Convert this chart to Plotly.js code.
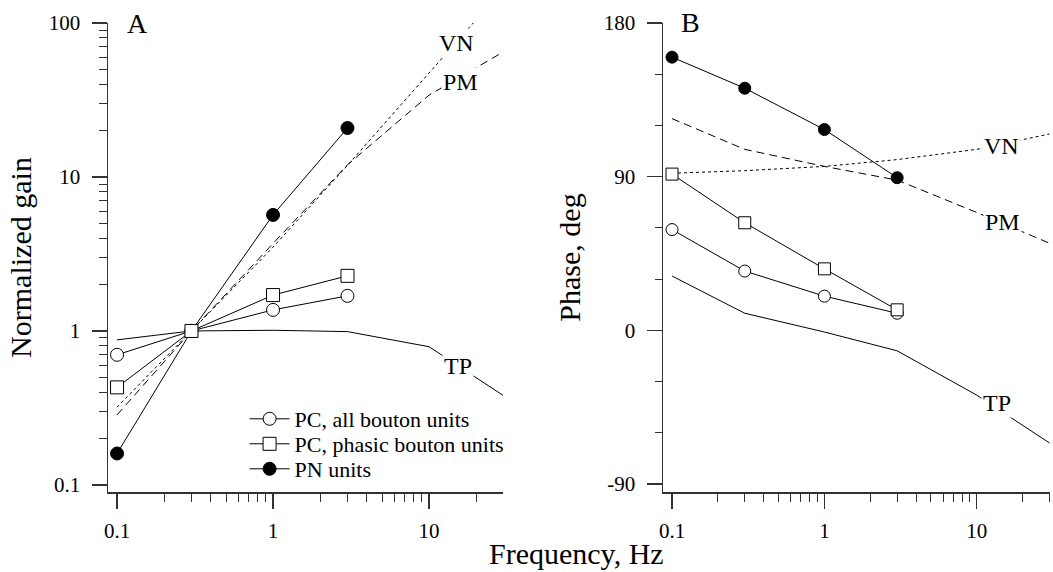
<!DOCTYPE html>
<html>
<head>
<meta charset="utf-8">
<script src="https://cdn.plot.ly/plotly-3.0.1.min.js"></script>
<style>html,body{margin:0;padding:0;background:#fff;}#chart{width:1053px;height:572px;}</style>
</head>
<body>
<div id="chart"></div>
<script>
// ---- data ----
const freqs = [0.1, 0.3, 1, 3];
const gainPCall = [0.70, 1, 1.37, 1.69];
const gainPCphasic = [0.43, 1, 1.71, 2.28];
const gainPN = [0.16, 1, 5.67, 20.8];

const modelFreqs = [0.1, 0.3, 1, 3, 10, 30];
const vnFreqsA = [0.1, 0.3, 1, 3, 10, 19.2];
const gainVN = [0.32, 1, 3.5, 11.9, 47, 100];
const gainPM = [0.285, 1, 3.7, 12, 34, 65];
const gainTP = [0.875, 1, 1.01, 0.99, 0.79, 0.38];

const phasePN = [160, 141.8, 117.6, 89.4];
const phasePCphasic = [91.5, 63, 36, 12];
const phasePCall = [59, 34.7, 20, 10];
const phaseVN = [92, 93.5, 96, 100, 106, 115];
const phasePM = [124, 106, 96, 88, 69, 51];
const phaseTP = [31.8, 10, -1, -12, -38, -66];

const seriesNames = ['PC, all bouton units', 'PC, phasic bouton units', 'PN units'];
const xTickVals = [0.1, 1, 10];
const xTickText = ['0.1', '1', '10'];
const xMinorVals = [0.2,0.3,0.4,0.5,0.6,0.7,0.8,0.9,2,3,4,5,6,7,8,9,20,30];
const yTickValsA = [0.1, 1, 10, 100];
const yTickTextA = ['0.1', '1', '10', '100'];
const yMinorValsA = [0.2,0.3,0.4,0.5,0.6,0.7,0.8,0.9,2,3,4,5,6,7,8,9,20,30,40,50,60,70,80,90];
const yTickValsB = [-90, 0, 90, 180];
const yTickTextB = ['-90', '0', '90', '180'];

// ---- styles ----
const FONT = 'Liberation Serif';
const lineBlack = {color: '#000', width: 1};
const openCircle = {symbol: 'circle', size: 13, color: '#fff', line: {color: '#000', width: 1}};
const openSquare = {symbol: 'square', size: 13, color: '#fff', line: {color: '#000', width: 1}};
const filledCircle = {symbol: 'circle', size: 13, color: '#000', line: {color: '#000', width: 1}};
const openCircleB = Object.assign({}, openCircle, {size: 12});
const openSquareB = Object.assign({}, openSquare, {size: 12});
const filledCircleB = Object.assign({}, filledCircle, {size: 12});

const traces = [
  // Panel A model curves
  {x: vnFreqsA, y: gainVN, mode: 'lines', line: {color: '#000', width: 1, dash: '3px,3px'}, showlegend: false, xaxis: 'x', yaxis: 'y', hoverinfo: 'skip'},
  {x: modelFreqs, y: gainPM, mode: 'lines', line: {color: '#000', width: 1, dash: '8px,5px'}, showlegend: false, xaxis: 'x', yaxis: 'y', hoverinfo: 'skip'},
  {x: modelFreqs, y: gainTP, mode: 'lines', line: lineBlack, showlegend: false, xaxis: 'x', yaxis: 'y', hoverinfo: 'skip'},
  // Panel A data
  {x: freqs, y: gainPN, name: seriesNames[2], mode: 'lines+markers', line: lineBlack, marker: filledCircle, xaxis: 'x', yaxis: 'y', legend: 'legend3'},
  {x: freqs, y: gainPCall, name: seriesNames[0], mode: 'lines+markers', line: lineBlack, marker: openCircle, xaxis: 'x', yaxis: 'y', legend: 'legend'},
  {x: freqs, y: gainPCphasic, name: seriesNames[1], mode: 'lines+markers', line: lineBlack, marker: openSquare, xaxis: 'x', yaxis: 'y', legend: 'legend2'},
  // Panel B model curves
  {x: modelFreqs, y: phaseVN, mode: 'lines', line: {color: '#000', width: 1, dash: '3px,3px'}, showlegend: false, xaxis: 'x2', yaxis: 'y2', hoverinfo: 'skip'},
  {x: modelFreqs, y: phasePM, mode: 'lines', line: {color: '#000', width: 1, dash: '8px,5px'}, showlegend: false, xaxis: 'x2', yaxis: 'y2', hoverinfo: 'skip'},
  {x: modelFreqs, y: phaseTP, mode: 'lines', line: lineBlack, showlegend: false, xaxis: 'x2', yaxis: 'y2', hoverinfo: 'skip'},
  // Panel B data
  {x: freqs, y: phasePN, name: seriesNames[2], mode: 'lines+markers', line: lineBlack, marker: filledCircleB, xaxis: 'x2', yaxis: 'y2', showlegend: false},
  {x: freqs, y: phasePCall, name: seriesNames[0], mode: 'lines+markers', line: lineBlack, marker: openCircleB, xaxis: 'x2', yaxis: 'y2', showlegend: false},
  {x: freqs, y: phasePCphasic, name: seriesNames[1], mode: 'lines+markers', line: lineBlack, marker: openSquareB, xaxis: 'x2', yaxis: 'y2', showlegend: false}
];

const axisCommon = {
  showline: true, linecolor: '#333', linewidth: 1.5, mirror: false,
  showgrid: false, zeroline: false,
  ticks: 'outside', tickcolor: '#333', tickwidth: 1.2,
  tickfont: {family: FONT, size: 21, color: '#000'}
};
const xCommon = Object.assign({}, axisCommon, {
  type: 'log', tickmode: 'array', tickvals: xTickVals, ticktext: xTickText, ticklen: 15,
  minor: {ticks: 'outside', tickmode: 'array', tickvals: xMinorVals, ticklen: 8, tickcolor: '#333', tickwidth: 1},
  ticklabelstandoff: 4
});

function lbl(text, xref, yref, x, y) {
  return {text: text, xref: xref, yref: yref, x: x, y: y, showarrow: false,
    font: {family: FONT, size: 24, color: '#000'}, bgcolor: '#fff', borderpad: 1,
    xanchor: 'center', yanchor: 'middle'};
}
function legendAt(y) {
  return {x: 0.145, y: y, xanchor: 'left', yanchor: 'middle',
    font: {family: FONT, size: 22, color: '#000'},
    bgcolor: 'rgba(0,0,0,0)', borderwidth: 0, itemwidth: 40};
}

const layout = {
  width: 1053, height: 572,
  margin: {l: 108, r: 3, t: 23, b: 80},
  paper_bgcolor: '#fff', plot_bgcolor: '#fff',
  font: {family: FONT, color: '#000'},
  showlegend: true,
  legend: legendAt((492 - 419) / 469),
  legend2: legendAt((492 - 444) / 469),
  legend3: legendAt((492 - 469) / 469),
  xaxis: Object.assign({}, xCommon, {domain: [0, 0.4193], range: [-1.058, 1.474], anchor: 'y'}),
  xaxis2: Object.assign({}, xCommon, {domain: [0.5892, 1], range: [-1.059, 1.48], anchor: 'y2'}),
  yaxis: Object.assign({}, axisCommon, {
    type: 'log', range: [-1.046, 2], anchor: 'x', domain: [0, 1],
    tickmode: 'array', tickvals: yTickValsA, ticktext: yTickTextA, ticklen: 15, ticklabelstandoff: 7,
    minor: {ticks: 'outside', tickmode: 'array', tickvals: yMinorValsA, ticklen: 8, tickcolor: '#333', tickwidth: 1},
    title: {text: 'Normalized gain', font: {family: FONT, size: 30, color: '#000'}, standoff: 8}
  }),
  yaxis2: Object.assign({}, axisCommon, {
    range: [-94.7, 180], anchor: 'x2', domain: [0, 1],
    tickmode: 'array', tickvals: yTickValsB, ticktext: yTickTextB, ticklen: 15, ticklabelstandoff: 7,
    minor: {ticks: 'outside', dtick: 30, tick0: 0, ticklen: 7, tickcolor: '#333', tickwidth: 1},
    title: {text: 'Phase, deg', font: {family: FONT, size: 30, color: '#000'}, standoff: 14}
  }),
  annotations: [
    {text: 'Frequency, Hz', xref: 'paper', yref: 'paper', x: (576 - 108) / 942, y: -(553 - 492) / 469,
     showarrow: false, xanchor: 'center', yanchor: 'middle', height: 36, valign: 'middle', borderpad: 0,
     font: {family: FONT, size: 30, color: '#000'}},
    {text: 'A', xref: 'paper', yref: 'paper', x: (137 - 108) / 942, y: 1, showarrow: false,
     xanchor: 'center', yanchor: 'middle', font: {family: FONT, size: 28, color: '#000'}},
    {text: 'B', xref: 'paper', yref: 'paper', x: (690 - 108) / 942, y: 1 + 1 / 469, showarrow: false,
     xanchor: 'center', yanchor: 'middle', font: {family: FONT, size: 28, color: '#000'}},
    lbl('VN', 'x', 'y', Math.log10(15.1), Math.log10(74)),
    lbl('PM', 'x', 'y', Math.log10(15.8), Math.log10(41.4)),
    lbl('TP', 'x', 'y', Math.log10(15.3), Math.log10(0.593)),
    lbl('VN', 'x2', 'y2', Math.log10(14.5), 108),
    lbl('PM', 'x2', 'y2', Math.log10(14.7), 63.5),
    lbl('TP', 'x2', 'y2', Math.log10(13.6), -42.4)
  ]
};

Plotly.newPlot('chart', traces, layout, {displayModeBar: false, staticPlot: true});
</script>
</body>
</html>
